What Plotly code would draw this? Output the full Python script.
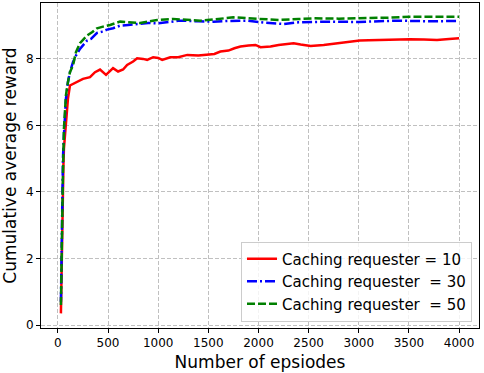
import plotly.graph_objects as go

# episodes and cumulative average reward
x_10 = [30, 35, 40, 45, 50, 55, 60, 70, 80, 90, 100, 120, 150, 190, 250, 320, 370, 420, 480,
        550, 600, 650, 690, 750, 790, 850, 890, 950, 1000, 1040, 1120, 1200, 1290, 1400, 1490,
        1560, 1620, 1700, 1760, 1820, 1900, 1970, 2020, 2120, 2200, 2350, 2420, 2520, 2650,
        2750, 2820, 2900, 3010, 3100, 3210, 3350, 3510, 3650, 3780, 3900, 4000]
y_10 = [0.35, 1.5, 2.8, 3.5, 3.9, 4.8, 5.3, 5.7, 6.0, 6.3, 6.8, 7.2, 7.25, 7.3, 7.4, 7.45, 7.6,
        7.68, 7.52, 7.72, 7.62, 7.68, 7.82, 7.92, 8.02, 8.0, 7.97, 8.05, 8.03, 7.97, 8.05, 8.05,
        8.12, 8.1, 8.12, 8.15, 8.22, 8.25, 8.32, 8.37, 8.4, 8.42, 8.35, 8.37, 8.42, 8.47, 8.43,
        8.39, 8.42, 8.46, 8.49, 8.52, 8.55, 8.56, 8.57, 8.58, 8.59, 8.58, 8.57, 8.6, 8.62]

x_30 = [30, 35, 40, 45, 50, 60, 70, 80, 100, 120, 150, 180, 220, 260, 290, 330, 390, 440, 490,
        550, 620, 700, 820, 900, 1000, 1100, 1220, 1400, 1550, 1700, 1880, 2050, 2250, 2400,
        2700, 3000, 3380, 3700, 4000]
y_30 = [0.7, 2.2, 3.4, 4.3, 5.0, 5.7, 6.3, 6.8, 7.3, 7.6, 7.9, 8.1, 8.3, 8.45, 8.55, 8.6, 8.78,
        8.82, 8.88, 8.92, 9.0, 9.02, 9.05, 9.08, 9.07, 9.1, 9.15, 9.13, 9.12, 9.14, 9.15, 9.09,
        9.05, 9.1, 9.12, 9.11, 9.15, 9.13, 9.14]

x_50 = [30, 35, 40, 45, 50, 60, 70, 80, 100, 120, 150, 180, 220, 260, 290, 340, 390, 450, 520,
        620, 700, 820, 900, 990, 1150, 1300, 1420, 1600, 1750, 1900, 2050, 2210, 2400, 2550,
        2800, 3050, 3300, 3510, 3800, 4000]
y_50 = [0.6, 2.0, 3.2, 4.0, 4.5, 5.9, 6.5, 6.9, 7.3, 7.6, 7.8, 8.2, 8.47, 8.6, 8.7, 8.8, 8.92,
        8.97, 9.02, 9.12, 9.1, 9.08, 9.12, 9.17, 9.2, 9.18, 9.15, 9.2, 9.25, 9.22, 9.2, 9.17,
        9.2, 9.22, 9.21, 9.22, 9.24, 9.27, 9.26, 9.27]

x_ticks = [0, 500, 1000, 1500, 2000, 2500, 3000, 3500, 4000]
y_ticks = [0, 2, 4, 6, 8]

fig = go.Figure()

fig.add_trace(go.Scatter(x=x_10, y=y_10, mode='lines', name='Caching requester = 10',
                         line=dict(color='#ff0000', width=2.5)))
fig.add_trace(go.Scatter(x=x_30, y=y_30, mode='lines', name='Caching requester \u00a0= 30',
                         line=dict(color='#0000ff', width=2.5, dash='10px,3px,2px,3px')))
fig.add_trace(go.Scatter(x=x_50, y=y_50, mode='lines', name='Caching requester \u00a0= 50',
                         line=dict(color='#008000', width=2.5, dash='8px,3px')))

axis_style = dict(
    showline=True, linecolor='black', linewidth=1, mirror=True,
    ticks='outside', ticklen=4, tickcolor='black',
    showgrid=True, gridcolor='#c0c0c0', griddash='4px,2px', gridwidth=1,
    zeroline=False, tickfont=dict(size=12, color='black'), automargin=False,
)

fig.update_layout(
    width=484, height=373,
    margin=dict(l=41, r=5, t=3, b=45),
    paper_bgcolor='white', plot_bgcolor='white',
    font=dict(family='DejaVu Sans', color='black'),
    xaxis=dict(axis_style, range=[-168.5, 4198.5], tickvals=x_ticks,
               title=dict(text='Number of epsiodes', font=dict(size=17), standoff=6)),
    yaxis=dict(axis_style, range=[-0.09, 9.68], tickvals=y_ticks,
               title=dict(text='Cumulative average reward', font=dict(size=17), standoff=6)),
    legend=dict(x=0.984, y=0.02, xanchor='right', yanchor='bottom',
                bgcolor='rgba(255,255,255,0.8)', bordercolor='#cccccc', borderwidth=1,
                font=dict(size=15), tracegroupgap=0),
    showlegend=True,
)

# page body has a default margin; drop it so the figure sits at the corner
fig.write_html("out.html", config={'displayModeBar': False},
               post_script="document.body.style.margin='0';")
